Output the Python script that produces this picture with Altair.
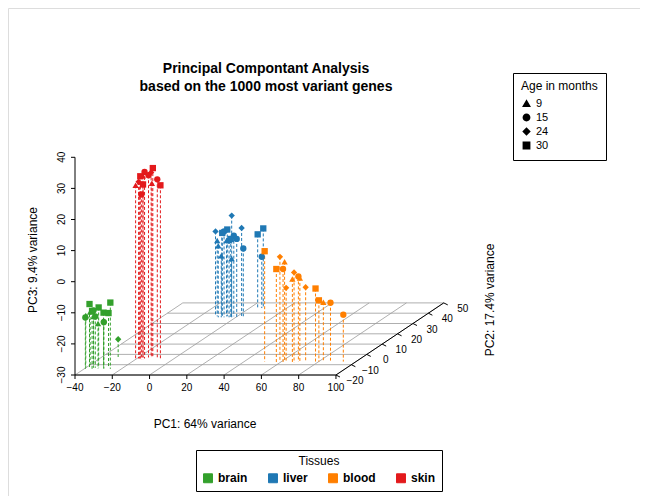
import altair as alt
import pandas as pd

tissue = (["brain"]*16 + ["skin"]*14 + ["liver"]*20 + ["blood"]*16)
age = ([30,30,30,30,30,30,9,9,9,9,15,15,15,15,24,24] +
       [9,9,9,9,15,15,15,15,30,30,30,30,24,24] +
       [24,24,24,24,9,9,9,9,9,15,15,15,15,15,30,30,30,30,30,15] +
       [30,24,24,24,24,9,9,9,9,15,15,15,15,30,30,30])
pc1 = ([-38,-33.1,-26,-31.3,-27.8,-35.8,-40,-38.5,-32.6,-35.8,-39.4,-36.7,-34.9,-29.5,-30.4,-31.3] +
       [-20.7,-12.8,-18.5,-17.6,-16.8,-9.9,-15.9,-14.6,-18.2,-12.3,-7.4,-15.9,-13.2,-19.1] +
       [-11.7,-2.2,2.3,-7.5,-10.8,-9.4,-5.8,-7.8,-3.1,-6.3,-1.9,0.5,3.2,-3.6,-5.4,-2.7,-8.1,4.3,7.3,6.5] +
       [51,59.2,67.6,73,61.7,61.7,66.7,69.9,82.5,61.7,69.1,85.5,93.2,58.1,78.3,80.1])
pc2 = ([-13,-13,-14,-12,-13,-14,-13,-12,-14,-13,-14,-12,-13,-14,-13,-2.5] +
       [-4,-3,-4,-3,-5,-3,-4,-3,-4,-3,-4,-5,-3,-4] +
       [37,36,37,36,37,36,37,36,37,36,37,36,37,36,37,36,37,45,45,45] +
       [-7,-7,-8,-7,-6,-7,-8,-7,-7,-8,-7,-6,-7,-8,-7,-7])
pc3 = ([-9.5,-10.6,-8.7,-12.6,-12.4,-11.4,-13.2,-12.4,-15.4,-13.5,-13.5,-11.9,-13.5,-15,-15,-24.3] +
       [25.7,26,26.8,28.4,23.1,27.3,30,28.6,28.6,30.9,25.7,26.3,29.5,26.8] +
       [-2.7,2.7,-1.6,-2.7,-5.6,-7,-5.6,-10.2,-11.4,-2.4,-4.1,-4.8,-8.2,-5.3,-2.1,-4.8,-3.2,-6.3,-4.4,-13.5] +
       [5.5,3.7,-1,-6.1,-6.6,2.1,-3.1,-3.1,-10.9,0.1,-2.6,-11.4,-14.9,0.1,-6.5,-10.3])

x_ticks = [-40,-20,0,20,40,60,80,100]
y_ticks = [-20,-10,0,10,20,30,40,50]
z_ticks = [-30,-20,-10,0,10,20,30,40]

def proj(a, b, c):
    return (67 + (a + 40) * 1.864 + (b + 20) * 1.54,
            121 + (c + 30) * 3.11 + (b + 20) * 1.03)

sx = alt.Scale(domain=[0, 632])
sy = alt.Scale(domain=[0, 488])

pts = []
for t, ag, a, b, c in zip(tissue, age, pc1, pc2, pc3):
    x, y = proj(a, b, c)
    _, y0 = proj(a, b, -30)
    pts.append(dict(tissue=t, age=str(ag), x=x, y=y, y0=y0))
pts = pd.DataFrame(pts)

segs = []
for b in y_ticks:
    x1, y1 = proj(-40, b, -30); x2, y2 = proj(100, b, -30)
    segs.append(dict(x=x1, y=y1, x2=x2, y2=y2))
for a in x_ticks:
    x1, y1 = proj(a, -20, -30); x2, y2 = proj(a, 50, -30)
    segs.append(dict(x=x1, y=y1, x2=x2, y2=y2))
segs = pd.DataFrame(segs)

axes = []
x1, y1 = proj(-40, -20, -30); x2, y2 = proj(100, -20, -30)
axes.append(dict(x=x1, y=y1, x2=x2, y2=y2))
x3, y3 = proj(100, 50, -30)
axes.append(dict(x=x2, y=y2, x2=x3, y2=y3))
x4, y4 = proj(-40, -20, 40)
axes.append(dict(x=x1, y=y1, x2=x4, y2=y4))
for a in x_ticks:
    p, q = proj(a, -20, -30); axes.append(dict(x=p, y=q, x2=p, y2=q - 4))
for c in z_ticks:
    p, q = proj(-40, -20, c); axes.append(dict(x=p, y=q, x2=p - 4, y2=q))
for b in y_ticks:
    p, q = proj(100, b, -30); axes.append(dict(x=p, y=q, x2=p + 4, y2=q - 2))
axes = pd.DataFrame(axes)

labs = []
for a in x_ticks:
    p, q = proj(a, -20, -30); labs.append(dict(x=p, y=q - 13, t=str(a).replace("-", "−"), ang=0))
for c in z_ticks:
    p, q = proj(-40, -20, c); labs.append(dict(x=p - 13, y=q, t=str(c).replace("-", "−"), ang=270))
for b in y_ticks:
    p, q = proj(100, b, -30); labs.append(dict(x=p + 19, y=q - 6, t=str(b).replace("-", "−"), ang=0))
labs = pd.DataFrame(labs)

base_font = "Liberation Sans"
X = alt.X("x:Q", scale=sx, axis=None)
Y = alt.Y("y:Q", scale=sy, axis=None)

grid = alt.Chart(segs).mark_rule(color="#9a9a9a", strokeWidth=0.8).encode(x=X, y=Y, x2="x2", y2="y2")
axl = alt.Chart(axes).mark_rule(color="black", strokeWidth=1).encode(x=X, y=Y, x2="x2", y2="y2")
lab0 = alt.Chart(labs[labs.ang == 0]).mark_text(fontSize=10, font=base_font, baseline="middle").encode(
    x=X, y=Y, text="t")
lab90 = alt.Chart(labs[labs.ang == 270]).mark_text(fontSize=10, font=base_font, baseline="middle", angle=270).encode(
    x=X, y=Y, text="t")

cdom = ["brain", "liver", "blood", "skin"]
crng = ["#33a02c", "#1f78b4", "#ff7f00", "#e31a1c"]
color = alt.Color("tissue:N", scale=alt.Scale(domain=cdom, range=crng),
                  legend=alt.Legend(title="Tissues", orient="none", direction="horizontal",
                                    legendX=188, legendY=442, symbolType="square",
                                    symbolStrokeColor="black", symbolStrokeWidth=1, symbolSize=80,
                                    labelFontWeight="bold", labelFontSize=12, titleFontSize=12,
                                    titleFontWeight="normal", titleAnchor="middle", titlePadding=4,
                                    columnPadding=18, padding=6, strokeColor="black",
                                    labelFont=base_font, titleFont=base_font))

drops = alt.Chart(pts).mark_rule(strokeDash=[3, 2], strokeWidth=1).encode(
    x=X, y=Y, y2="y0", color=color)

points = alt.Chart(pts).mark_point(filled=True, opacity=1, size=40).encode(
    x=X, y=Y, color=color,
    shape=alt.Shape("age:N", scale=alt.Scale(domain=["9", "15", "24", "30"],
                    range=["triangle-up", "circle", "diamond", "square"]),
                    legend=alt.Legend(title="Age in months", orient="none", legendX=505, legendY=65,
                                      symbolFillColor="black", symbolStrokeColor="black", symbolSize=40,
                                      labelFontSize=11, titleFontSize=12, titleFontWeight="normal",
                                      padding=8, strokeColor="black", labelFont=base_font,
                                      titleFont=base_font, rowPadding=1)))

txt = pd.DataFrame([
    dict(x=258, y=427, t="Principal Compontant Analysis", w="bold"),
    dict(x=258, y=409, t="based on the 1000 most variant genes", w="bold"),
    dict(x=197, y=72, t="PC1: 64% variance", w="normal"),
])
t_bold = alt.Chart(txt[txt.w == "bold"]).mark_text(font=base_font, fontWeight="bold", fontSize=14).encode(
    x=X, y=Y, text="t")
t_norm = alt.Chart(txt[txt.w == "normal"]).mark_text(font=base_font, fontSize=12).encode(
    x=X, y=Y, text="t")
side = pd.DataFrame([dict(x=25, y=236, t="PC3: 9.4% variance"), dict(x=482, y=196, t="PC2: 17.4% variance")])
t_side = alt.Chart(side).mark_text(font=base_font, fontSize=12, angle=270).encode(x=X, y=Y, text="t")

chart = alt.layer(grid, axl, lab0, lab90, drops, points, t_bold, t_norm, t_side).properties(
    width=632, height=488, autosize=alt.AutoSizeParams(type="none"), padding=0
).configure_view(stroke=None).configure(background="white")

chart.save("out.html", embed_options={"renderer": "svg", "actions": False})
